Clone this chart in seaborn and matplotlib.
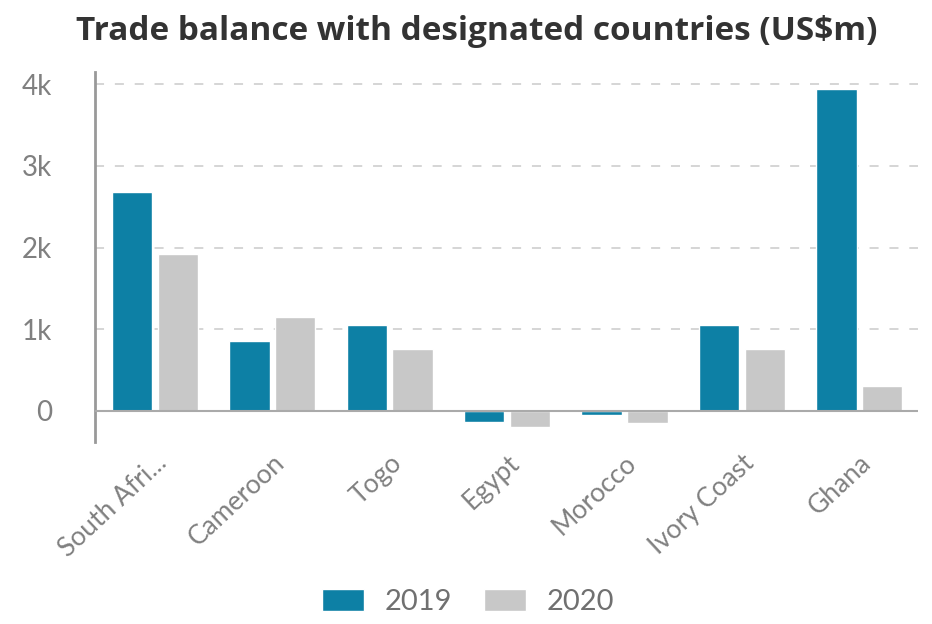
import matplotlib
matplotlib.use("Agg")
import matplotlib.pyplot as plt
import seaborn as sns
import pandas as pd

countries = ["South Afri...", "Cameroon", "Togo", "Egypt", "Morocco", "Ivory Coast", "Ghana"]
values_2019 = [2680, 860, 1050, -130, -50, 1050, 3940]
values_2020 = [1920, 1150, 760, -200, -150, 760, 300]
years = ["2019", "2020"]
yticks = [0, 1000, 2000, 3000, 4000]
ytick_labels = ["0", "1k", "2k", "3k", "4k"]

df = pd.DataFrame({
    "country": countries * 2,
    "value": values_2019 + values_2020,
    "year": [years[0]] * len(countries) + [years[1]] * len(countries),
})

sns.set_style("white")
plt.rcParams["font.family"] = ["Lato", "DejaVu Sans"]

fig = plt.figure(figsize=(9.32, 6.24), dpi=100)
ax = fig.add_axes([95 / 932, 1 - 442 / 624, (918 - 95) / 932, (442 - 72) / 624])

sns.barplot(data=df, x="country", y="value", hue="year",
            palette={"2019": "#0d80a5", "2020": "#c8c8c8"},
            width=0.78, gap=0.12, saturation=1, ax=ax, legend=True)

ax.set_xlim(-0.51, 6.5)
ax.set_ylim(-380, 4150)
ax.set_yticks(yticks)
ax.set_yticklabels(ytick_labels)
for y in yticks[1:]:
    ax.axhline(y, color="#d2d2d2", lw=1.3, ls=(0, (5, 6)), zorder=0)
ax.axhline(0, color="#aaaaaa", lw=1.5, zorder=3)

for s in ["top", "right", "bottom"]:
    ax.spines[s].set_visible(False)
ax.spines["left"].set_color("#999999")
ax.spines["left"].set_linewidth(2)
ax.tick_params(axis="y", length=0, pad=31, labelsize=20, labelcolor="#808080")
ax.tick_params(axis="x", length=0, pad=6, labelsize=19, labelcolor="#808080")
for lab in ax.get_yticklabels():
    lab.set_horizontalalignment("right")
for lab in ax.get_xticklabels():
    lab.set_rotation(43)
    lab.set_horizontalalignment("right")
    lab.set_rotation_mode("anchor")
ax.set_xlabel("")
ax.set_ylabel("")

ax.legend_.remove()
handles, labels = ax.get_legend_handles_labels()
fig.legend(handles, labels, loc="center", bbox_to_anchor=(468 / 932, 1 - 602 / 624),
           ncol=2, frameon=False, fontsize=21, labelcolor="#707070",
           handlelength=1.45, handleheight=0.75, handletextpad=0.7, columnspacing=1.1)

fig.text(477 / 932, 1 - 32 / 624, "Trade balance with designated countries (US$m)",
         ha="center", va="center", fontsize=24, fontweight="bold",
         color="#333333", family=["Open Sans", "DejaVu Sans"])

fig.savefig("out.png", dpi=100)
